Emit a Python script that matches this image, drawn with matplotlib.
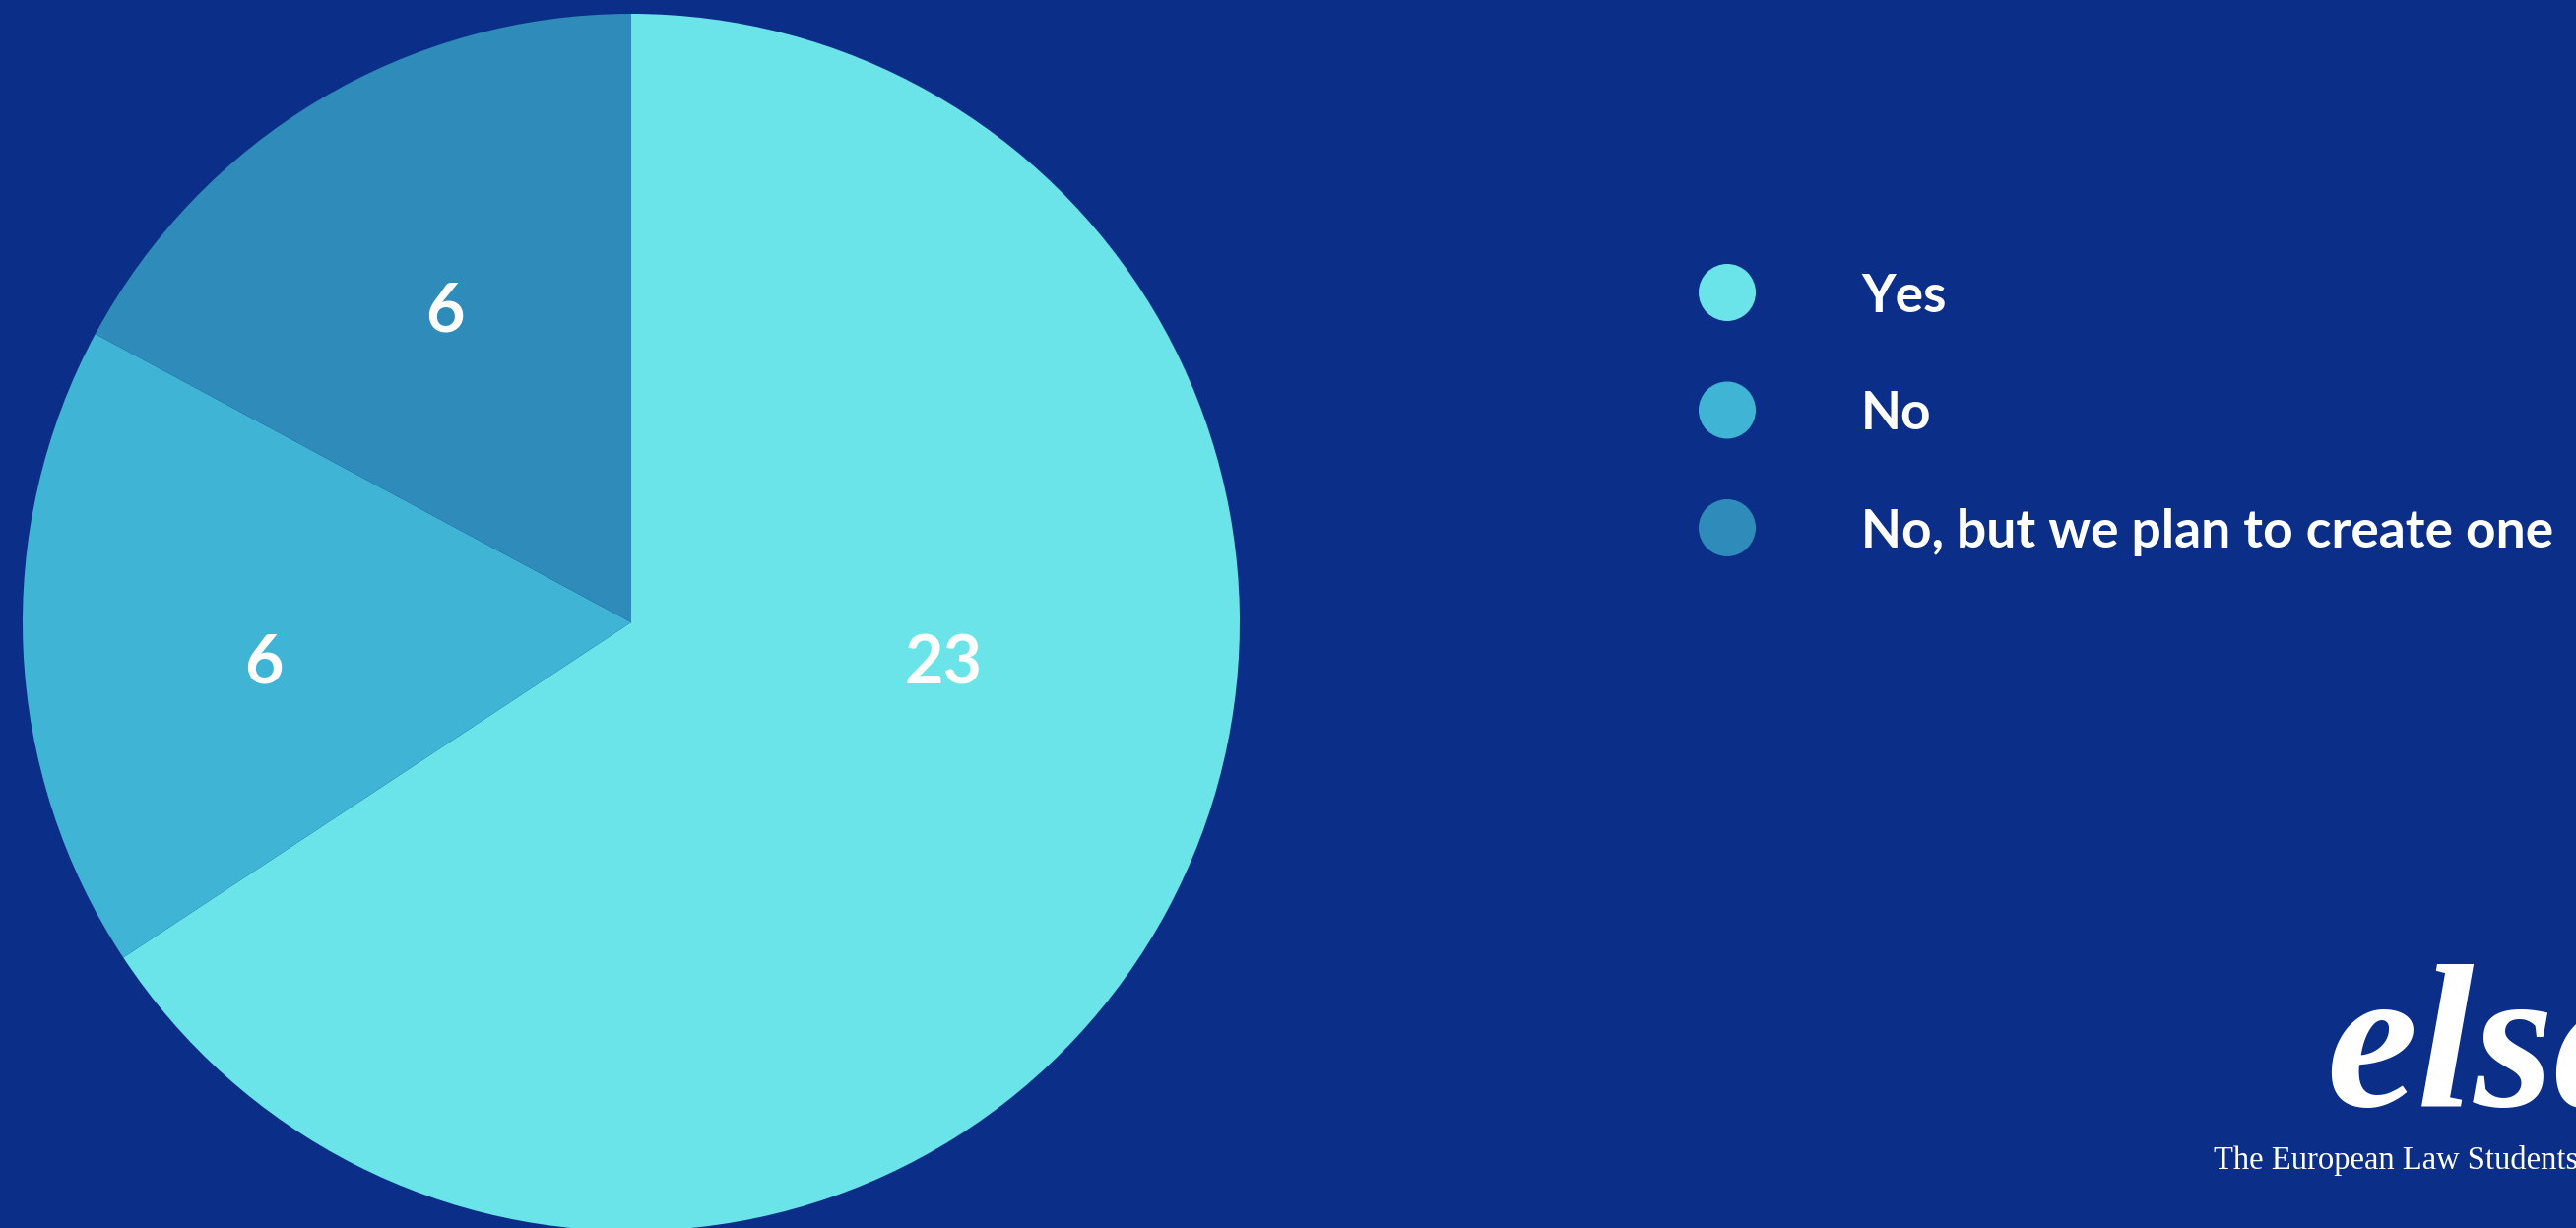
import numpy as np
import matplotlib.pyplot as plt

# data
categories = ['Yes', 'No', 'No, but we plan to create one']
values = [23, 6, 6]
colors = ['#6AE4E8', '#40B4D4', '#2E8BBA']

bg = '#0B2F88'
W, H = 2616, 1247

fig = plt.figure(figsize=(W / 100, H / 100), dpi=100, facecolor=bg)

# pie axes: centre (641, 632) px, radius 618 px
cx, cy, r = 641, 632, 618
ax = fig.add_axes([(cx - r) / W, (H - cy - r) / H, 2 * r / W, 2 * r / H])
ax.set_facecolor(bg)
wedges, _ = ax.pie(values, colors=colors, startangle=90, counterclock=False,
                   radius=1, wedgeprops=dict(linewidth=0))
ax.set_xlim(-1, 1)
ax.set_ylim(-1, 1)
ax.set_aspect('equal')
ax.axis('off')

# value labels (angle in deg, distance as fraction of radius)
label_pos = [(-6.75, 0.5165), (185.74, 0.6066), (120.6, 0.601)]
half_digit = 24.5 / r  # half the digit height in axes units
for w, v, (ang, dist) in zip(wedges, values, label_pos):
    a = np.deg2rad(ang)
    ax.text(dist * np.cos(a), dist * np.sin(a) - half_digit, str(v),
            ha='center', va='baseline', color='white', fontsize=49,
            family='Lato', weight='bold')

# legend drawn on an overlay in pixel coords
ov = fig.add_axes([0, 0, 1, 1])
ov.set_xlim(0, W)
ov.set_ylim(H, 0)
ov.axis('off')
ov.patch.set_alpha(0)
for i, (cat, col) in enumerate(zip(categories, colors)):
    y = 297 + 119.5 * i
    ov.scatter([1754], [y], s=(58 * 0.72) ** 2, color=col, edgecolors='none')
    ov.text(1890, y, cat, ha='left', va='center_baseline', color='white',
            fontsize=38.4, family='Lato', weight='bold')

# logo
ov.text(2362, 1123, 'elsa', ha='left', va='baseline', color='white',
        fontsize=150, family='Liberation Serif', weight='bold', style='italic')
ov.text(2248, 1187, "The European Law Students' Association", ha='left',
        va='baseline', color='white', fontsize=23.5, family='Liberation Serif')

fig.savefig('out.png', dpi=100, facecolor=bg)
